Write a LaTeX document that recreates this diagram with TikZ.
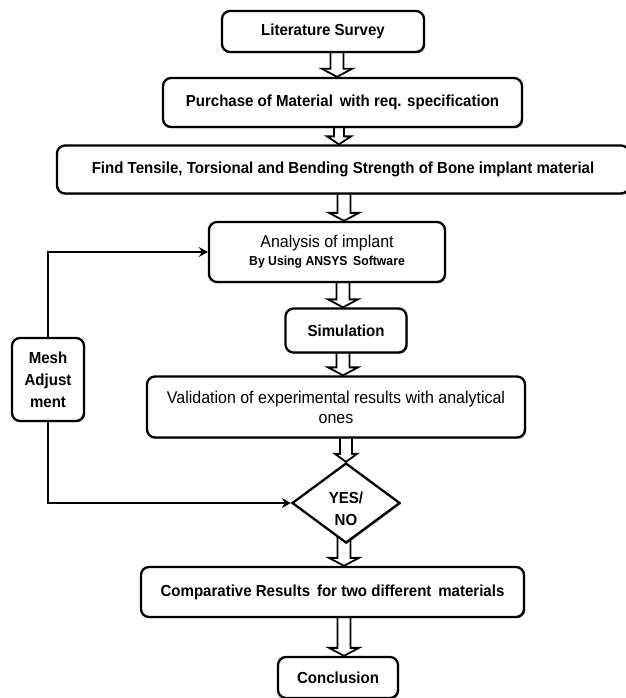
\documentclass[tikz,border=0pt]{standalone}
\usepackage{fontspec}
\setmainfont{Liberation Sans}[FakeStretch=0.94]
\usetikzlibrary{shapes.geometric,arrows.meta,calc,shadows}
\pgfdeclarelayer{bg}
\pgfsetlayers{bg,main}
\tikzset{
  box/.style={draw=black, line width=2.3pt, rounded corners=8pt, fill=white,
    align=center, inner sep=2pt,
    font=\fontsize{16}{19}\selectfont\bfseries,
    drop shadow={shadow xshift=1.2pt, shadow yshift=-1.2pt, fill=black!60, opacity=0.7}},
  dec/.style={draw=black, line width=2.3pt, fill=white, diamond, inner sep=0pt,
    minimum width=108pt, minimum height=80pt,
    drop shadow={shadow xshift=1.2pt, shadow yshift=-1.2pt, fill=black!60, opacity=0.7}},
  lbl/.style={align=center, inner sep=0pt, font=\fontsize{16}{22}\selectfont\bfseries},
  shaftw/.store in=\bshaft, headw/.store in=\bhead, shaftw=6.5pt, headw=15pt,
  blk/.style={draw=black, line width=1.8pt, fill=white, line join=miter,
    to path={let \p1=(\tikztostart), \p2=(\tikztotarget) in
      (\x1-\bshaft,\y1+8pt) -- (\x1-\bshaft,\y2+8pt) -- (\x1-\bhead,\y2+8pt) -- (\x1,\y2)
      -- (\x1+\bhead,\y2+8pt) -- (\x1+\bshaft,\y2+8pt) -- (\x1+\bshaft,\y1+8pt)}},
  fb/.style={draw=black, -{Stealth[length=9pt,width=10pt,inset=3pt]}}
}
\begin{document}
\begin{tikzpicture}[x=1pt,y=-1pt]
\useasboundingbox (0,0) rectangle (625,698);

\node[box, minimum width=202pt, minimum height=41pt] (lit) at (323,31.5) {Literature Survey};
\node[box, minimum width=359pt, minimum height=49pt] (pur) at (342.5,102.5) {Purchase of Material \,with req. specification};
\node[box, minimum width=572pt, minimum height=48pt] (find) at (343,169.5) {Find Tensile, Torsional and Bending Strength of Bone implant material};
\node[box, minimum width=236pt, minimum height=60pt, font=\fontsize{17}{19}\selectfont] (ana) at (327,252)
  {Analysis of implant\\[-1pt]{\bfseries\fontsize{13}{19}\selectfont By Using ANSYS \,Software}};
\node[box, minimum width=121pt, minimum height=44pt] (sim) at (346,330.5) {Simulation};
\node[box, minimum width=378pt, minimum height=61pt, font=\fontsize{17}{20}\selectfont] (val) at (336,407)
  {Validation of experimental results with analytical\\ones};
\node[box, minimum width=72pt, minimum height=83pt, font=\fontsize{16}{22}\selectfont\bfseries] (mesh) at (48,379.5) {Mesh\\Adjust\\ment};
\node[dec] (dia) at (346,503) {};
\node[lbl] (yn) at (346,509) {YES/\\NO};
\node[box, minimum width=383pt, minimum height=50pt] (comp) at (332.5,592) {Comparative Results \,for two different \,materials};
\node[box, minimum width=120pt, minimum height=41pt] (con) at (338,677.5) {Conclusion};

\begin{pgfonlayer}{bg}
\fill[white] (0,0) rectangle (625,698);
\path[blk] (lit.south -| 337,0) to (pur.north -| 337,0);
\path[blk, shaftw=5pt, headw=12pt] (pur.south -| 339,0) to (find.north -| 339,0);
\path[blk] (find.south -| 344,0) to (ana.north -| 344,0);
\path[blk] (ana.south -| 343,0) to (sim.north -| 343,0);
\path[blk] (sim.south -| 343,0) to (val.north -| 343,0);
\path[blk, shaftw=6pt, headw=11pt] (val.south -| 346,0) to (dia.north);
\path[blk] (dia.south -| 344,0) to (comp.north -| 344,0);
\path[blk] (comp.south -| 344,0) to (con.north -| 344,0);
\end{pgfonlayer}

\draw[fb, line width=2.8pt] (mesh.north) |- (ana.west);
\draw[fb, line width=2.2pt] (mesh.south) |- (dia.west);
\end{tikzpicture}
\end{document}
